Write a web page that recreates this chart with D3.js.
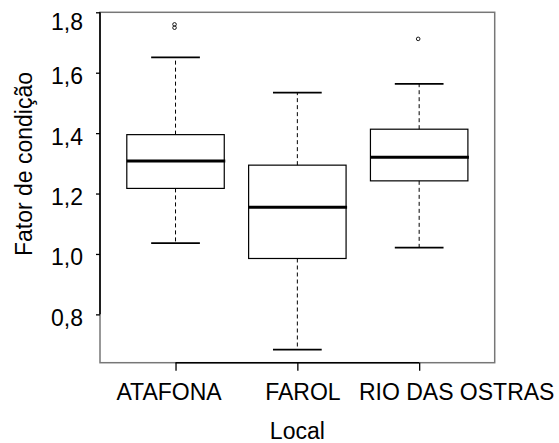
<!DOCTYPE html>
<html>
<head>
<meta charset="utf-8">
<script src="https://cdn.jsdelivr.net/npm/d3@7"></script>
<style>
  body { margin: 0; background: #fff; }
  text { font-family: "Liberation Sans", Arial, sans-serif; fill: #000; }
</style>
</head>
<body>
<svg id="chart" width="559" height="443"></svg>
<script>
// ---- data ----
const categories = ["ATAFONA", "FAROL", "RIO DAS OSTRAS"];
const whiskerLow  = [1.036, 0.683, 1.021];
const q1          = [1.217, 0.985, 1.242];
const median      = [1.308, 1.155, 1.320];
const q3          = [1.395, 1.294, 1.413];
const whiskerHigh = [1.651, 1.534, 1.563];
const outliers    = [[1.760, 1.749], [], [1.712]];
const yTicks      = [0.8, 1.0, 1.2, 1.4, 1.6, 1.8];
const xTitle = "Local";
const yTitle = "Fator de condição";

// ---- layout ----
const pL = 100, pR = 494.7, pT = 12.3, pB = 362.7;
const labelShift = [-7, 5, 37];   // horizontal nudges of category labels as in original
const svg = d3.select("#chart");

const x = d3.scaleLinear().domain([0.38, 3.62]).range([pL, pR]);
const y = d3.scaleLinear().domain([0.640, 1.8]).range([pB, pT]);
const boxW = x(0.8) - x(0), capW = x(0.4) - x(0);

// frame
svg.append("rect")
  .attr("x", pL).attr("y", pT)
  .attr("width", pR - pL).attr("height", pB - pT)
  .attr("fill", "none").attr("stroke", "#777").attr("stroke-width", 1.5);

// y axis
const yAxis = svg.append("g")
  .attr("transform", `translate(${pL},0)`)
  .call(d3.axisLeft(y).tickValues(yTicks).tickSize(4).tickPadding(13)
        .tickFormat(d => d3.format(".1f")(d).replace(".", ",")));
yAxis.attr("font-family", null).attr("font-size", null);
yAxis.select(".domain").attr("d", `M0,${y(0.8)}V${y(1.8)}`).attr("stroke", "#000").attr("stroke-width", 1.6);
yAxis.selectAll(".tick line").attr("stroke", "#000").attr("stroke-width", 1.3);
yAxis.selectAll(".tick text").style("font-size", "23px").attr("dy", "11px")
  .filter(d => d === 1.8).attr("dy", "17px");

// x axis
const xAxis = svg.append("g")
  .attr("transform", `translate(0,${pB})`)
  .call(d3.axisBottom(x).tickValues([1, 2, 3]).tickSize(8).tickPadding(0)
        .tickFormat((d, i) => categories[i]));
xAxis.attr("font-family", null).attr("font-size", null);
xAxis.select(".domain").attr("d", `M${x(1)},0H${x(3)}`).attr("stroke", "#000").attr("stroke-width", 1.6);
xAxis.selectAll(".tick line").attr("stroke", "#000").attr("stroke-width", 1.3);
xAxis.selectAll(".tick text").style("font-size", "23px")
  .attr("dy", 0).attr("y", 400 - pB)
  .attr("x", (d, i) => labelShift[i]);

// boxes
categories.forEach((c, i) => {
  const cx = x(i + 1);
  const g = svg.append("g");
  g.append("line").attr("x1", cx).attr("x2", cx)
    .attr("y1", y(q3[i])).attr("y2", y(whiskerHigh[i]))
    .attr("stroke", "#000").attr("stroke-width", 1).attr("stroke-dasharray", "4,3");
  g.append("line").attr("x1", cx).attr("x2", cx)
    .attr("y1", y(q1[i])).attr("y2", y(whiskerLow[i]))
    .attr("stroke", "#000").attr("stroke-width", 1).attr("stroke-dasharray", "4,3");
  [whiskerHigh[i], whiskerLow[i]].forEach(v => {
    g.append("line").attr("x1", cx - capW / 2).attr("x2", cx + capW / 2)
      .attr("y1", y(v)).attr("y2", y(v))
      .attr("stroke", "#000").attr("stroke-width", 1.8);
  });
  g.append("rect").attr("x", cx - boxW / 2).attr("width", boxW)
    .attr("y", y(q3[i])).attr("height", y(q1[i]) - y(q3[i]))
    .attr("fill", "none").attr("stroke", "#000").attr("stroke-width", 1.2);
  g.append("line").attr("x1", cx - boxW / 2).attr("x2", cx + boxW / 2 + 1)
    .attr("y1", y(median[i])).attr("y2", y(median[i]))
    .attr("stroke", "#000").attr("stroke-width", 3);
  outliers[i].forEach(v => {
    g.append("circle").attr("cx", cx - 1).attr("cy", y(v)).attr("r", 1.8)
      .attr("fill", "none").attr("stroke", "#000").attr("stroke-width", 0.9);
  });
});

// titles
svg.append("text").attr("x", (pL + pR) / 2).attr("y", 439)
  .attr("text-anchor", "middle").style("font-size", "23px").text(xTitle);
svg.append("text").attr("transform", `translate(32,164) rotate(-90)`)
  .attr("text-anchor", "middle").style("font-size", "23px").text(yTitle);
</script>
</body>
</html>
